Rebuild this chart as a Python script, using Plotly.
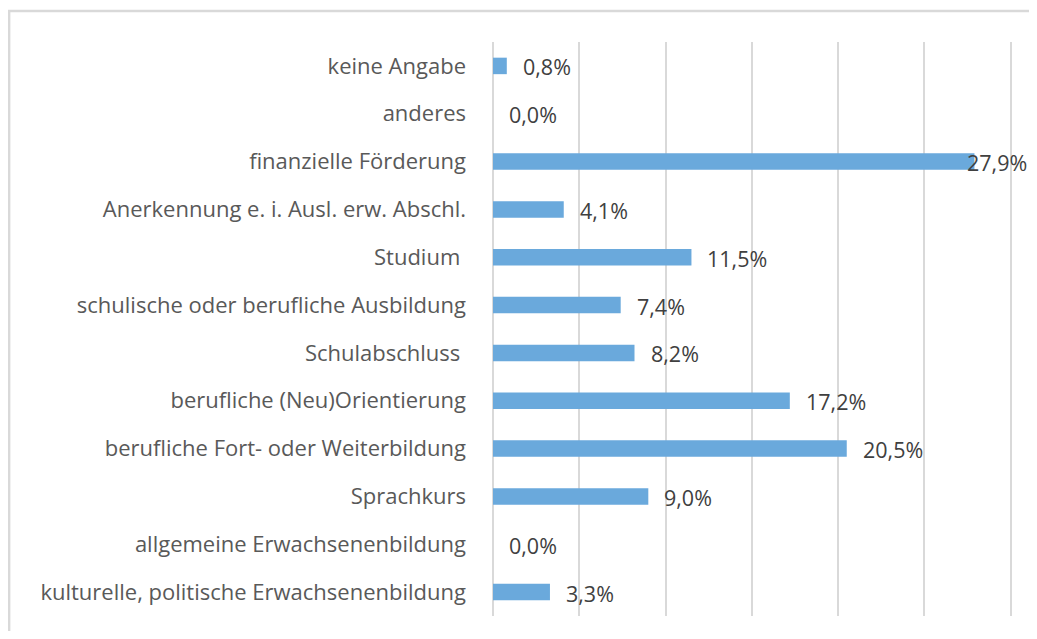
import plotly.graph_objects as go

# categories bottom -> top (plotly draws the first category at the bottom)
categories = [
    "kulturelle, politische Erwachsenenbildung",
    "allgemeine Erwachsenenbildung",
    "Sprachkurs",
    "berufliche Fort- oder Weiterbildung",
    "berufliche (Neu)Orientierung",
    "Schulabschluss ",
    "schulische oder berufliche Ausbildung",
    "Studium ",
    "Anerkennung e. i. Ausl. erw. Abschl.",
    "finanzielle Förderung",
    "anderes",
    "keine Angabe",
]
values = [3.3, 0.0, 9.0, 20.5, 17.2, 8.2, 7.4, 11.5, 4.1, 27.9, 0.0, 0.8]
value_labels = [f"{v:.1f}%".replace(".", ",") for v in values]

fig = go.Figure()
fig.add_trace(go.Bar(
    y=categories,
    x=values,
    orientation="h",
    marker=dict(color="#6AA9DC", line=dict(width=0)),
    width=0.345,
    hoverinfo="skip",
))

# data labels to the right of each bar (the longest one pulled in so it stays visible)
for cat, v, lab in zip(categories, values, value_labels):
    fig.add_annotation(
        x=v, y=cat, text=lab, showarrow=False,
        xanchor="left", yanchor="middle", yshift=-1,
        xshift=14 if v < 27 else -9,
        font=dict(family="Open Sans", size=21.5, color="#404040"),
    )

# light frame around the chart area
fig.add_shape(type="rect", xref="paper", yref="paper",
              x0=-0.927, x1=1.1, y0=-0.1, y1=1.054,
              line=dict(color="#D9D9D9", width=2.5), layer="below")

fig.update_xaxes(
    range=[0, 30.25], dtick=5, showticklabels=False,
    showgrid=True, gridcolor="#D9D9D9", gridwidth=2,
    zeroline=True, zerolinecolor="#D9D9D9", zerolinewidth=2,
    showline=False, fixedrange=True,
)
fig.update_yaxes(
    categoryorder="array", categoryarray=categories,
    showgrid=False, showline=False, ticks="",
    ticklabelstandoff=26,
    tickfont=dict(family="Open Sans", size=22, color="#595959"),
)
fig.update_layout(
    width=1021, height=623,
    margin=dict(l=485, r=14, t=34, b=15, autoexpand=False),
    plot_bgcolor="white", paper_bgcolor="white",
    showlegend=False,
    font=dict(family="Open Sans"),
)

fig.write_html("out.html")
